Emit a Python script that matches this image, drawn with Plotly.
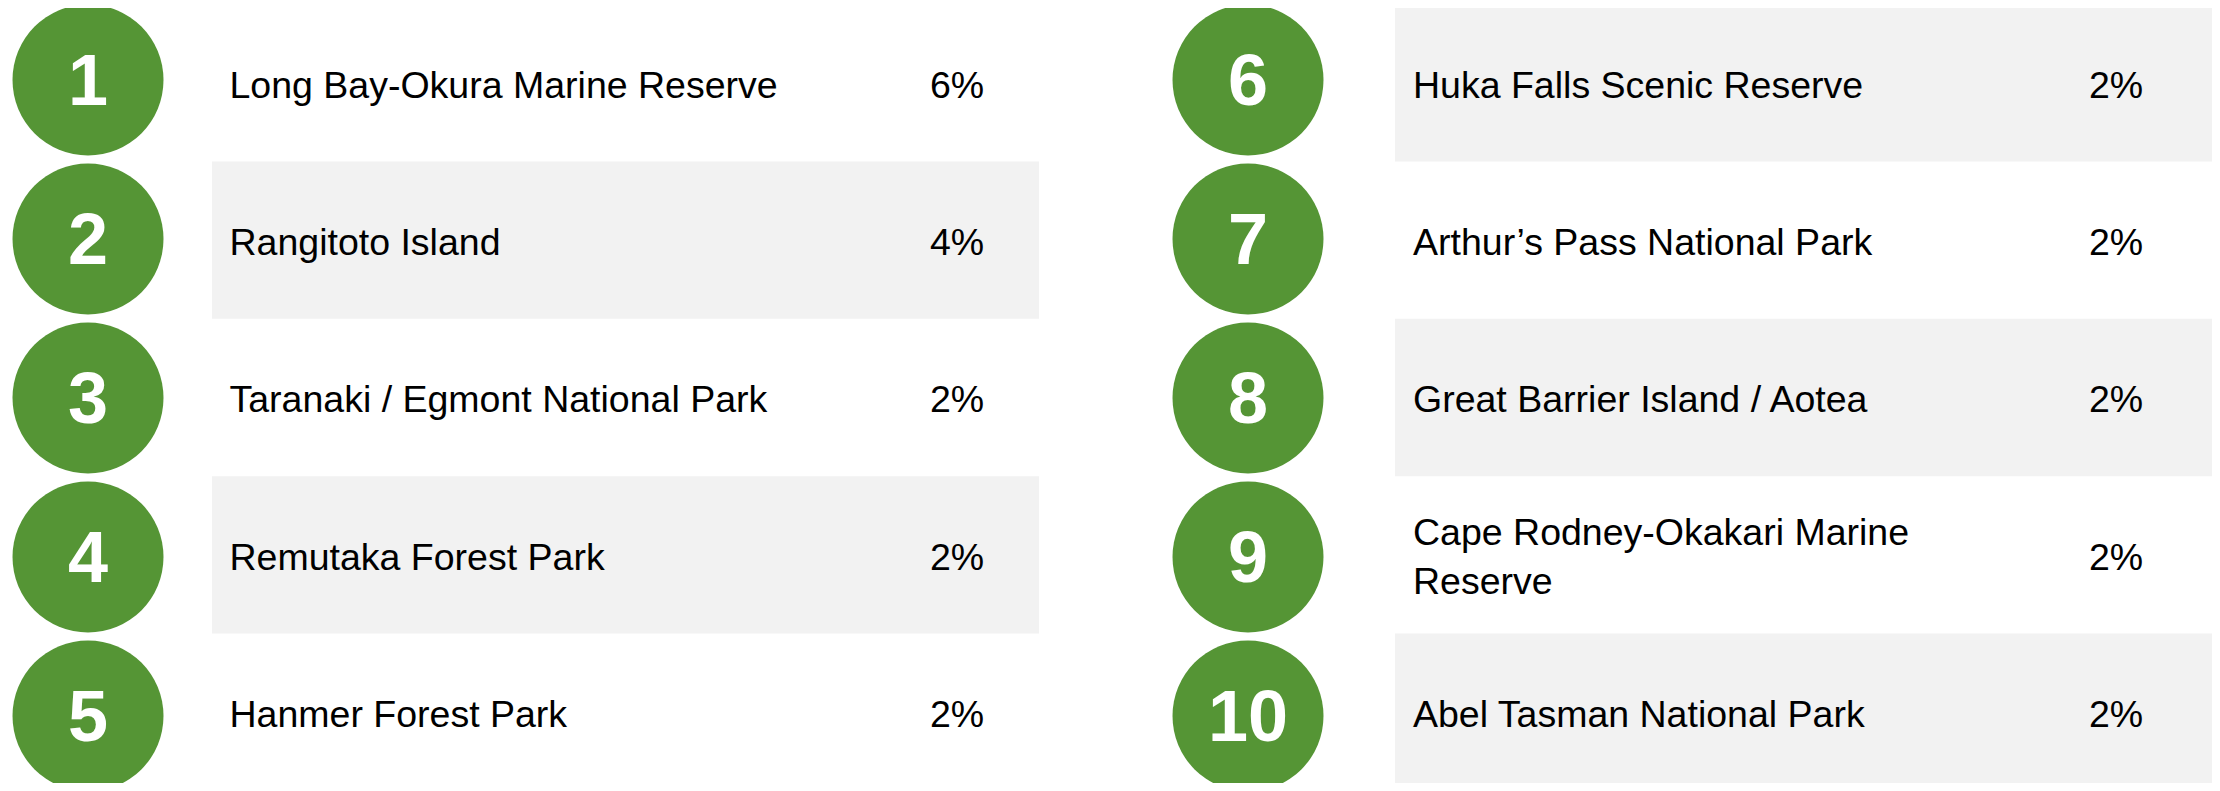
"""Top 10 visited parks / reserves ranking card rendered with Plotly."""

import plotly.graph_objects as go

# ranking data
ranks = [1, 2, 3, 4, 5, 6, 7, 8, 9, 10]
places = [
    "Long Bay-Okura Marine Reserve",
    "Rangitoto Island",
    "Taranaki / Egmont National Park",
    "Remutaka Forest Park",
    "Hanmer Forest Park",
    "Huka Falls Scenic Reserve",
    "Arthur\u2019s Pass National Park",
    "Great Barrier Island / Aotea",
    "Cape Rodney-Okakari Marine<br>Reserve",
    "Abel Tasman National Park",
]
shares = [6, 4, 2, 2, 2, 2, 2, 2, 2, 2]

# page geometry (the html body keeps its default 8px margin, so axes are
# expressed in page pixels and the figure is shrunk to fit the window)
PAGE_W, PAGE_H, BODY_MARGIN = 2220, 791, 8
ROWS_PER_COL = 5
ROW_TOP = 4
ROW_H = 157.4
TEXT_DY = 5.5
NUM_DY = 7
CIRCLE_TOP = 80
CIRCLE_PITCH = 159
CIRCLE_X = [88, 1248]
NAME_X = [229.5, 1413]
PCT_X = [930, 2089]
BAND_X = [(212, 1039), (1395, 2220)]
GREEN = "#559535"
BAND = "#F2F2F2"
FONT = "Liberation Sans, Arial, sans-serif"

cols = [(r - 1) // ROWS_PER_COL for r in ranks]
slots = [(r - 1) % ROWS_PER_COL for r in ranks]
band_y = [ROW_TOP + (s + 0.5) * ROW_H for s in slots]
text_y = [y + TEXT_DY for y in band_y]
circle_y = [CIRCLE_TOP + s * CIRCLE_PITCH for s in slots]

fig = go.Figure()

# shaded bands behind even ranks
shaded = [i for i, r in enumerate(ranks) if r % 2 == 0]
fig.add_trace(
    go.Bar(
        y=[band_y[i] for i in shaded],
        x=[BAND_X[cols[i]][1] - BAND_X[cols[i]][0] for i in shaded],
        base=[BAND_X[cols[i]][0] for i in shaded],
        orientation="h",
        width=ROW_H,
        marker={"color": BAND, "line": {"width": 0}},
        hoverinfo="skip",
    )
)

# green circles
fig.add_trace(
    go.Scatter(
        x=[CIRCLE_X[c] for c in cols],
        y=circle_y,
        mode="markers",
        marker={"size": 151, "color": GREEN, "line": {"width": 0}},
        cliponaxis=False,
        hoverinfo="skip",
    )
)

# rank numbers inside the circles
fig.add_trace(
    go.Scatter(
        x=[CIRCLE_X[c] for c in cols],
        y=[y + NUM_DY for y in circle_y],
        mode="text",
        text=[f"<b>{r}</b>" for r in ranks],
        textposition="middle center",
        textfont={"family": FONT, "size": 72, "color": "white"},
        cliponaxis=False,
        hoverinfo="skip",
    )
)

# place names
fig.add_trace(
    go.Scatter(
        x=[NAME_X[c] for c in cols],
        y=text_y,
        mode="text",
        text=places,
        textposition="middle right",
        textfont={"family": FONT, "size": 37.5, "color": "black"},
        hoverinfo="skip",
    )
)

# share values
fig.add_trace(
    go.Scatter(
        x=[PCT_X[c] for c in cols],
        y=text_y,
        mode="text",
        text=[f"{s}%" for s in shares],
        textposition="middle right",
        textfont={"family": FONT, "size": 37.5, "color": "black"},
        hoverinfo="skip",
    )
)

fig.update_layout(
    width=PAGE_W - 2 * BODY_MARGIN,
    height=PAGE_H - 2 * BODY_MARGIN,
    margin={"l": 0, "r": 0, "t": 0, "b": 0},
    paper_bgcolor="white",
    plot_bgcolor="white",
    showlegend=False,
    xaxis={
        "range": [BODY_MARGIN, PAGE_W - BODY_MARGIN],
        "visible": False,
        "fixedrange": True,
    },
    yaxis={
        "range": [PAGE_H - BODY_MARGIN, BODY_MARGIN],
        "visible": False,
        "fixedrange": True,
    },
)

fig.write_html("out.html")
